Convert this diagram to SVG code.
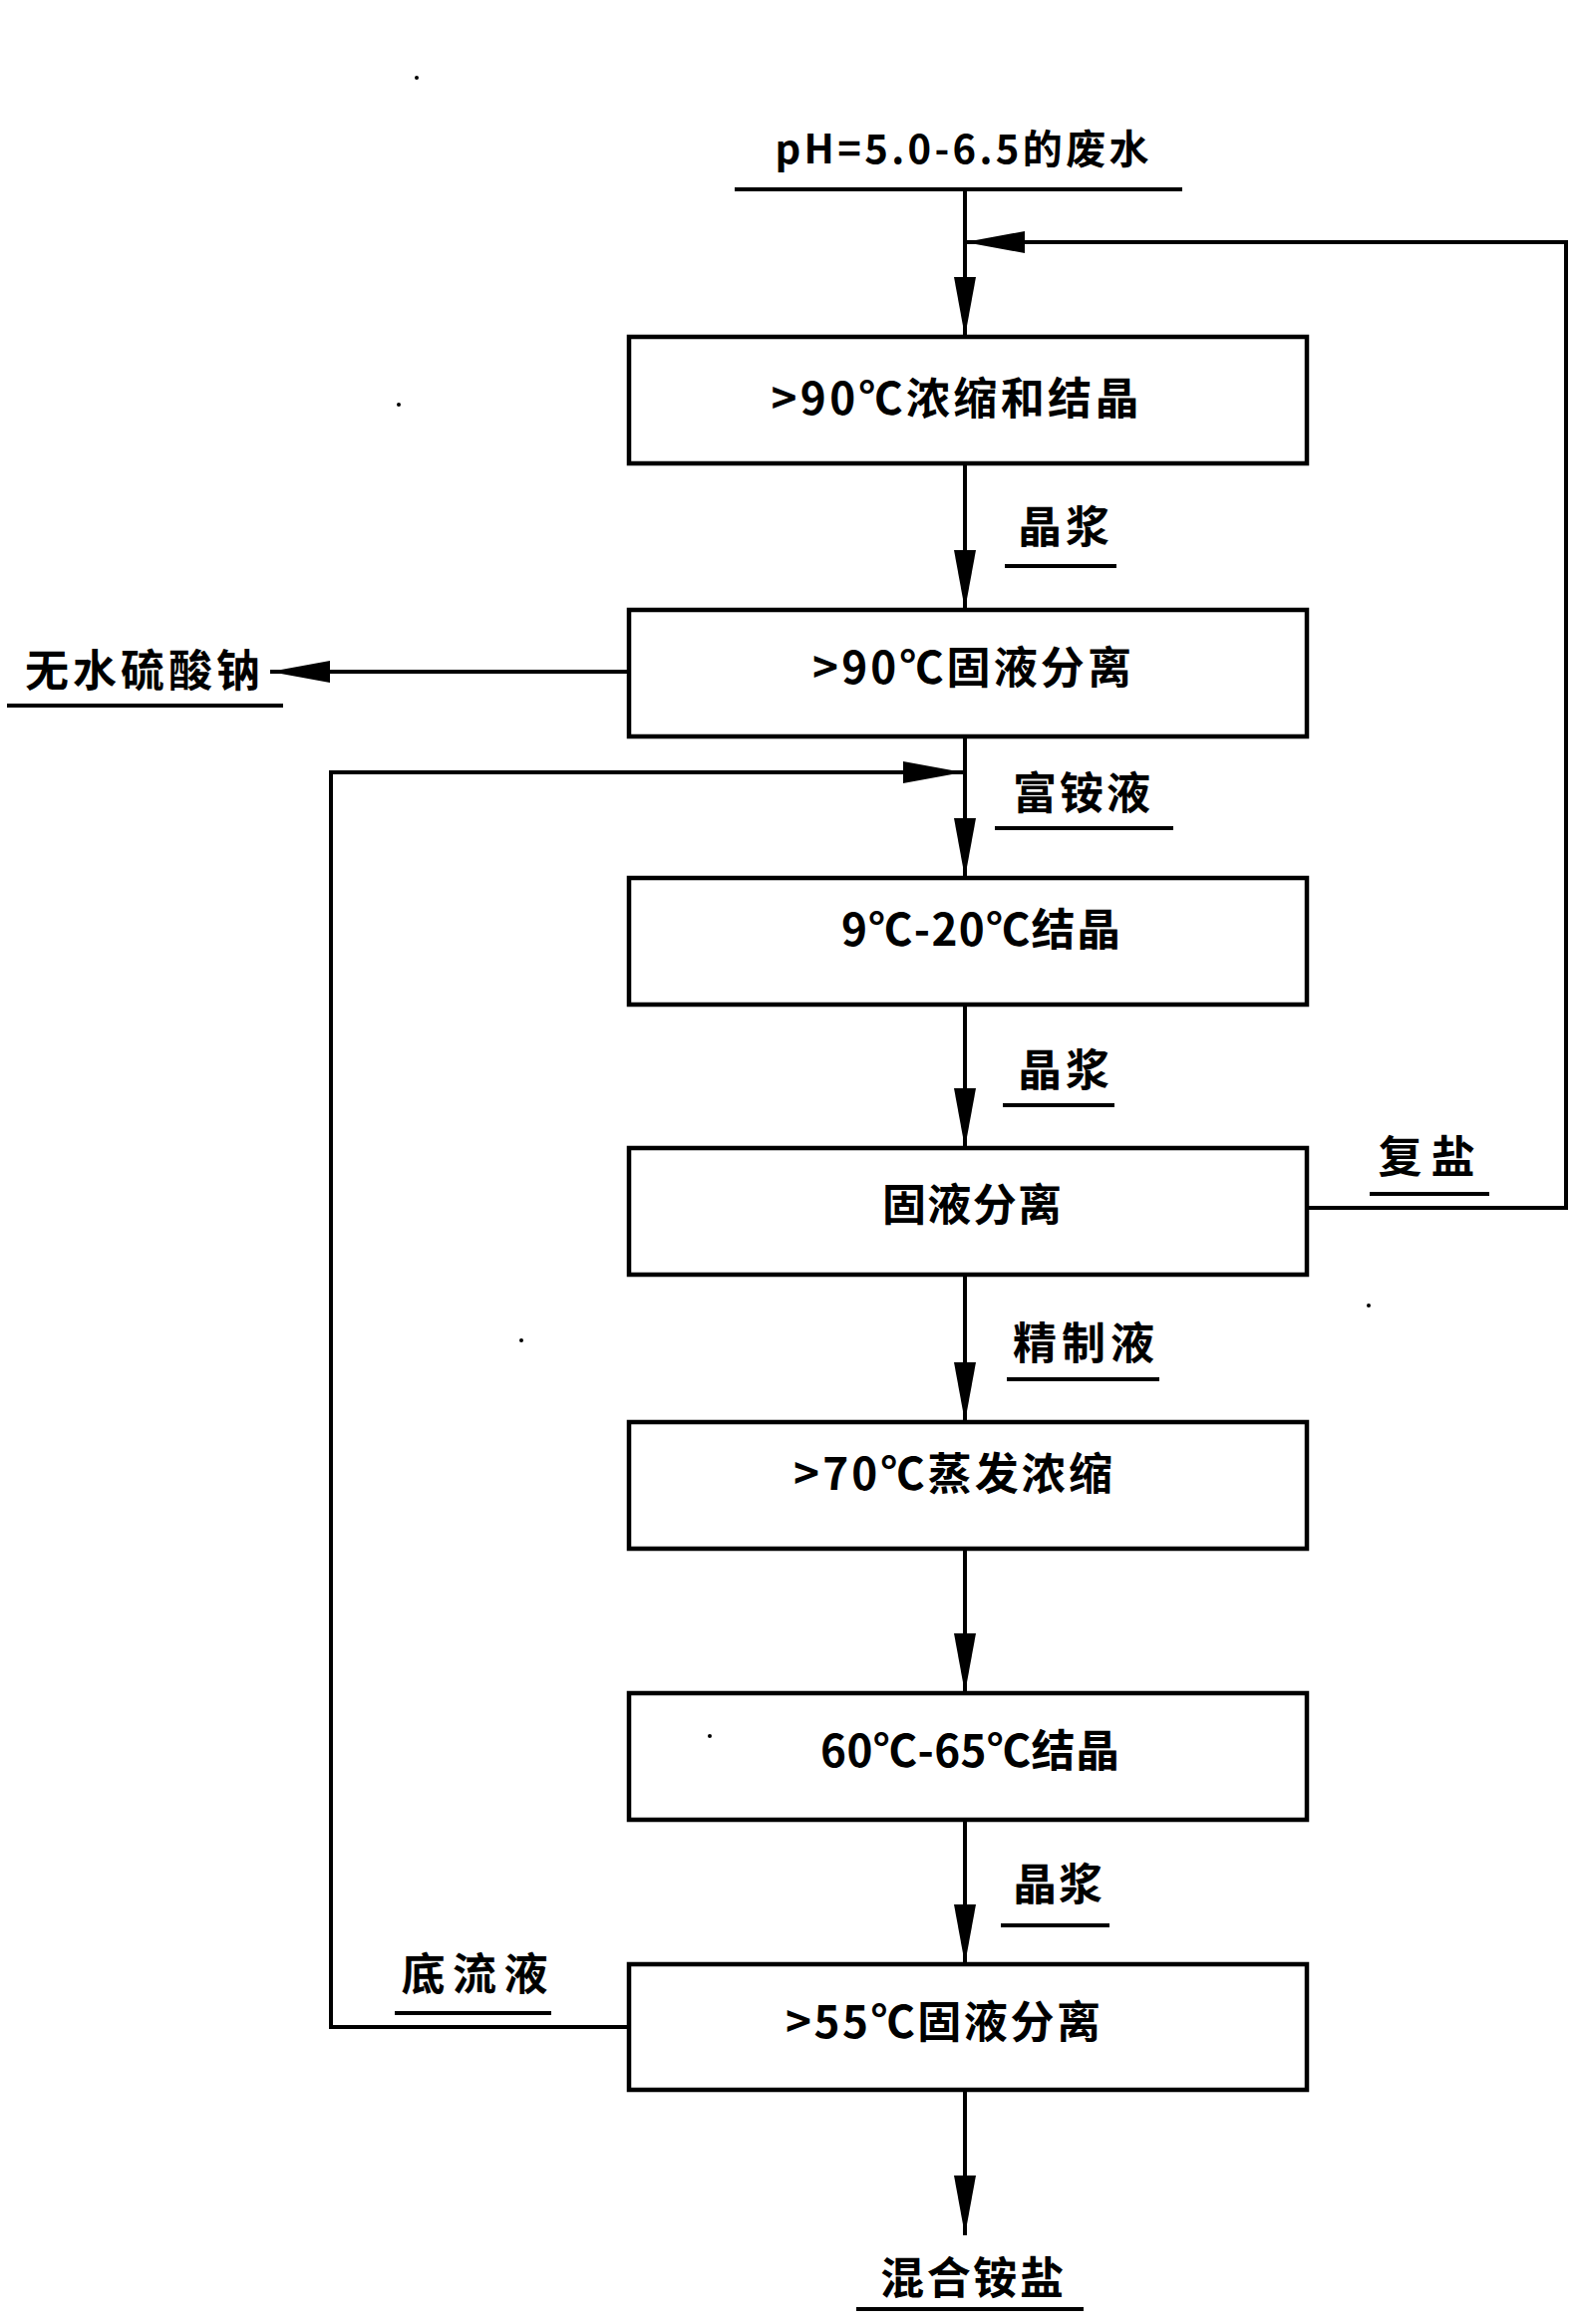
<svg xmlns="http://www.w3.org/2000/svg" width="1581" height="2332" viewBox="0 0 1581 2332">
<style>
  .box { fill: #ffffff; stroke: #000000; stroke-width: 4.5; }
  .ln { fill: none; stroke: #000000; stroke-width: 4; }
  .ul { stroke: #000000; stroke-width: 4; }
  .t { font-family: "Noto Sans CJK SC", "Noto Sans", sans-serif; font-weight: 700; font-size: 44px; fill: #000000; }
  .tc { text-anchor: middle; }
</style>
<defs>
  <marker id="ah" viewBox="0 0 60 22" refX="60" refY="11" markerWidth="60" markerHeight="22" markerUnits="userSpaceOnUse" orient="auto">
    <path d="M0,0 L60,11 L0,22 Z" fill="#000000"/>
  </marker>
</defs>
<rect width="1581" height="2332" fill="#ffffff"/>

<g id="connectors">
  <path class="ln" d="M968,190 V338" marker-end="url(#ah)"/>
  <path class="ln" d="M968,465 V612" marker-end="url(#ah)"/>
  <path class="ln" d="M968,739 V881" marker-end="url(#ah)"/>
  <path class="ln" d="M968,1008 V1152" marker-end="url(#ah)"/>
  <path class="ln" d="M968,1279 V1427" marker-end="url(#ah)"/>
  <path class="ln" d="M968,1554 V1699" marker-end="url(#ah)"/>
  <path class="ln" d="M968,1826 V1971" marker-end="url(#ah)"/>
  <path class="ln" d="M968,2097 V2243" marker-end="url(#ah)"/>
  <path class="ln" d="M1311,1212 H1571 V243 H968" marker-end="url(#ah)"/>
  <path class="ln" d="M631,2034 H332 V775 H966" marker-end="url(#ah)"/>
  <path class="ln" d="M631,674 H271" marker-end="url(#ah)"/>
</g>

<g id="feed">
  <text class="t tc" x="965" y="164" style="font-size:40px" textLength="375" lengthAdjust="spacing">pH=5.0-6.5的废水</text>
  <line class="ul" x1="737" y1="190" x2="1186" y2="190"/>
</g>

<g id="n1">
  <rect class="box" x="631" y="338" width="680" height="127"/>
  <text class="t tc" x="958" y="416" textLength="369" lengthAdjust="spacing">&gt;90℃浓缩和结晶</text>
</g>
<g id="n2">
  <rect class="box" x="631" y="612" width="680" height="127"/>
  <text class="t tc" x="975" y="686" textLength="320" lengthAdjust="spacing">&gt;90℃固液分离</text>
</g>
<g id="n3">
  <rect class="box" x="631" y="881" width="680" height="127"/>
  <text class="t tc" x="984" y="949" textLength="280" lengthAdjust="spacing">9℃-20℃结晶</text>
</g>
<g id="n4">
  <rect class="box" x="631" y="1152" width="680" height="127"/>
  <text class="t tc" x="975" y="1225" textLength="180" lengthAdjust="spacing">固液分离</text>
</g>
<g id="n5">
  <rect class="box" x="631" y="1427" width="680" height="127"/>
  <text class="t tc" x="956" y="1495" textLength="320" lengthAdjust="spacing">&gt;70℃蒸发浓缩</text>
</g>
<g id="n6">
  <rect class="box" x="631" y="1699" width="680" height="127"/>
  <text class="t tc" x="973" y="1773" textLength="300" lengthAdjust="spacing">60℃-65℃结晶</text>
</g>
<g id="n7">
  <rect class="box" x="631" y="1971" width="680" height="126"/>
  <text class="t tc" x="946" y="2045" textLength="316" lengthAdjust="spacing">&gt;55℃固液分离</text>
</g>

<g id="labels">
  <text class="t tc" x="1067" y="545" textLength="92" lengthAdjust="spacing">晶浆</text>
  <line class="ul" x1="1008" y1="568" x2="1120" y2="568"/>

  <text class="t tc" x="143" y="689" textLength="236" lengthAdjust="spacing">无水硫酸钠</text>
  <line class="ul" x1="7" y1="708" x2="284" y2="708"/>

  <text class="t tc" x="1085" y="812" textLength="138" lengthAdjust="spacing">富铵液</text>
  <line class="ul" x1="998" y1="831" x2="1177" y2="831"/>

  <text class="t tc" x="1067" y="1090" textLength="92" lengthAdjust="spacing">晶浆</text>
  <line class="ul" x1="1006" y1="1109" x2="1118" y2="1109"/>

  <text class="t tc" x="1431" y="1177" textLength="97" lengthAdjust="spacing">复盐</text>
  <line class="ul" x1="1374" y1="1198" x2="1494" y2="1198"/>

  <text class="t tc" x="1087" y="1364" textLength="142" lengthAdjust="spacing">精制液</text>
  <line class="ul" x1="1010" y1="1384" x2="1163" y2="1384"/>

  <text class="t tc" x="1061" y="1907" textLength="90" lengthAdjust="spacing">晶浆</text>
  <line class="ul" x1="1004" y1="1932" x2="1113" y2="1932"/>

  <text class="t tc" x="476" y="1997" textLength="147" lengthAdjust="spacing">底流液</text>
  <line class="ul" x1="396" y1="2020" x2="553" y2="2020"/>

  <text class="t tc" x="975" y="2302" textLength="184" lengthAdjust="spacing">混合铵盐</text>
  <line class="ul" x1="859" y1="2317" x2="1087" y2="2317"/>
</g>

<g id="specks" fill="#000000">
  <circle cx="418" cy="78" r="2"/>
  <circle cx="400" cy="406" r="2"/>
  <circle cx="523" cy="1345" r="2"/>
  <circle cx="1373" cy="1310" r="2"/>
  <circle cx="712" cy="1742" r="2"/>
</g>
</svg>
